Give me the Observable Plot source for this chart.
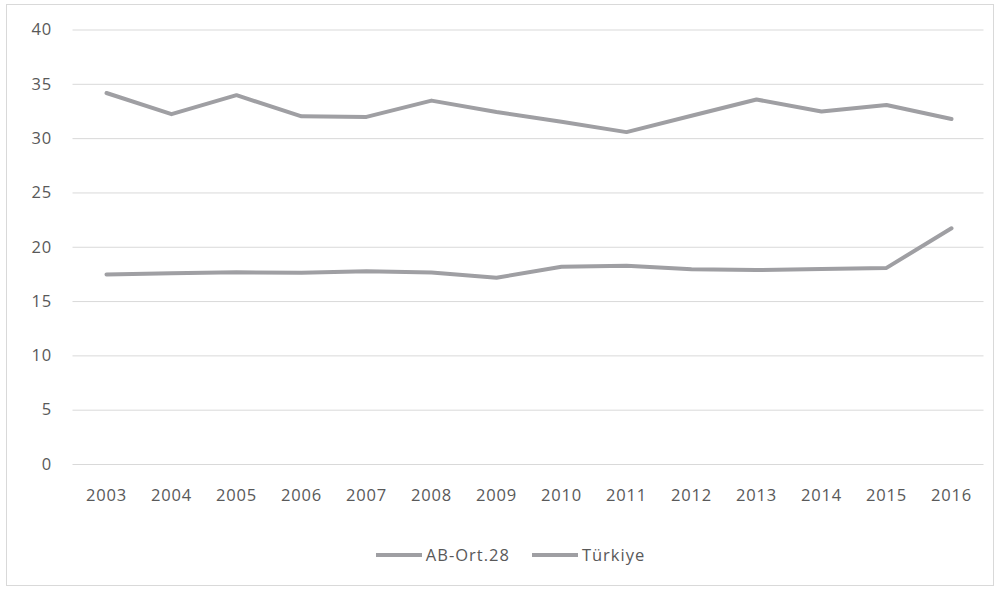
<!DOCTYPE html>
<html>
<head>
<meta charset="utf-8">
<script src="https://cdn.jsdelivr.net/npm/d3@7"></script>
<script src="https://cdn.jsdelivr.net/npm/@observablehq/plot@0.6"></script>
<style>
  html, body { margin: 0; padding: 0; background: #fff; }
  #frame { position: absolute; left: 6px; top: 4px; width: 988px; height: 582px; border: 1px solid #d9d9d9; box-sizing: border-box; }
  #chart { position: absolute; left: 0; top: 0; }
  #legend { position: absolute; left: 10px; top: 543px; width: 1001px; display: flex; justify-content: center; align-items: center;
    font-family: "Open Sans", sans-serif; font-size: 16.5px; letter-spacing: 1px; color: #595959; }
  .item { display: flex; align-items: center; margin: 0 11px; }
  .sw { width: 46px; height: 4px; background: #9f9fa3; margin-right: 4px; }
</style>
</head>
<body>
<div id="frame"></div>
<div id="chart"></div>
<div id="legend"></div>
<script>
const years = ["2003","2004","2005","2006","2007","2008","2009","2010","2011","2012","2013","2014","2015","2016"];
const abOrt28 = [17.5, 17.6, 17.7, 17.65, 17.8, 17.68, 17.2, 18.2, 18.3, 17.98, 17.9, 18.0, 18.1, 21.75];
const turkiye = [34.2, 32.25, 34.0, 32.05, 32.0, 33.5, 32.45, 31.55, 30.6, 32.1, 33.6, 32.5, 33.1, 31.8];
const seriesNames = ["AB-Ort.28", "Türkiye"];
const yTicks = [0, 5, 10, 15, 20, 25, 30, 35, 40];
const lineColor = "#9f9fa3";

const data = [
  ...years.map((y, i) => ({year: y, value: abOrt28[i], series: seriesNames[0]})),
  ...years.map((y, i) => ({year: y, value: turkiye[i], series: seriesNames[1]}))
];

const chart = Plot.plot({
  width: 1001,
  height: 520,
  marginLeft: 72.5,
  marginRight: 17.5,
  marginTop: 29.5,
  marginBottom: 56,
  style: { fontFamily: "Open Sans, sans-serif", fontSize: "16.5px", color: "#595959", background: "transparent", letterSpacing: "0.8px" },
  x: { type: "point", domain: years, padding: 0.5, label: null },
  y: { domain: [0, 40], ticks: yTicks, label: null },
  marks: [
    Plot.gridY(yTicks, { stroke: "#d9d9d9", strokeOpacity: 1, strokeWidth: 1 }),
    Plot.axisY({ ticks: yTicks, tickSize: 0, tickPadding: 21, label: null }),
    Plot.axisX({ tickSize: 0, tickPadding: 25, label: null }),
    Plot.line(data, { x: "year", y: "value", z: "series", stroke: lineColor, strokeWidth: 4, strokeLinejoin: "round", strokeLinecap: "round" })
  ]
});
document.getElementById("chart").appendChild(chart);

const legend = document.getElementById("legend");
seriesNames.forEach(name => {
  const item = document.createElement("div");
  item.className = "item";
  const sw = document.createElement("span");
  sw.className = "sw";
  const t = document.createElement("span");
  t.textContent = name;
  item.appendChild(sw);
  item.appendChild(t);
  legend.appendChild(item);
});
</script>
</body>
</html>
